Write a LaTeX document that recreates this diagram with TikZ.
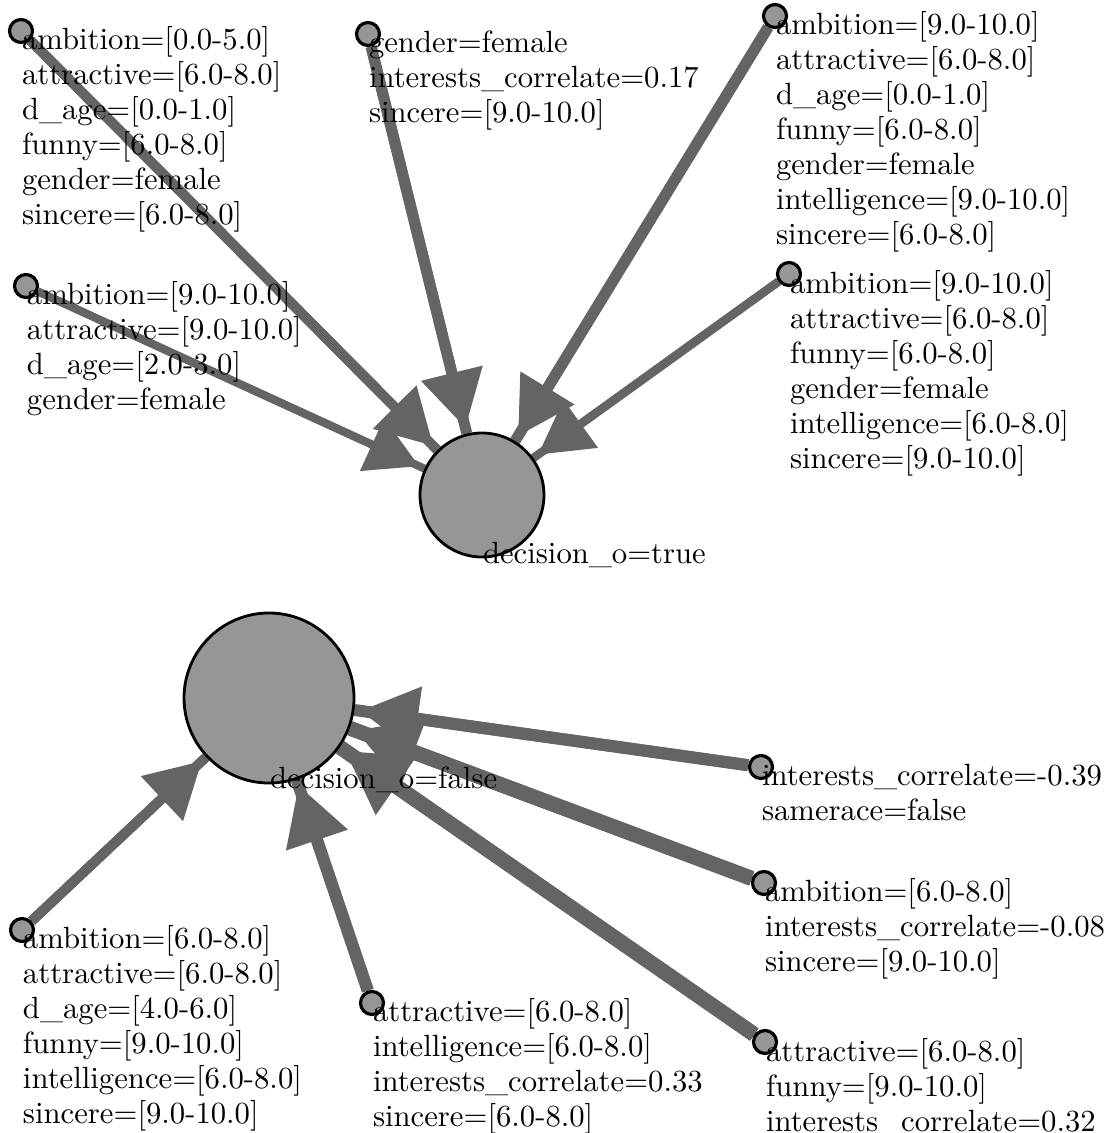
\documentclass[tikz,border=0pt]{standalone}
\usetikzlibrary{arrows.meta,calc,backgrounds}
\definecolor{nodefill}{RGB}{150,150,150}
\definecolor{edgecol}{RGB}{100,100,100}
\font\lblfont="[lmroman10-regular.otf]" at 30.7pt
% multi-line label whose base is the baseline of its first line; rows 35pt apart
\newcommand\lbl[1]{\lblfont\setbox\strutbox\hbox{\vrule height 24.5pt depth 10.5pt width 0pt}%
  \begin{tabular}[t]{@{}l@{}}#1\end{tabular}}
% connector: full-width line into the target, plus a head whose tip stops at distance #3 from the target centre
\newcommand\edgeto[4]{%
  \draw[edgeline, line width=#4] (#1) -- (#2);
  \draw[edgeline, line width=#4, -{Triangle[length=40pt 1.5, width=44pt 1.5]}]
    (#1) -- ($(#2.center)!#3!(#1.center)$);
}
\tikzset{
  small/.style={circle, draw=black, fill=nodefill, line width=3.2pt, minimum size=23pt, inner sep=0pt},
  bigtrue/.style={circle, draw=black, fill=nodefill, line width=2.8pt, minimum size=124pt, inner sep=0pt},
  bigfalse/.style={circle, draw=black, fill=nodefill, line width=2.8pt, minimum size=170pt, inner sep=0pt},
  label text/.style={anchor=base west, inner sep=0pt, outer sep=0pt},
  edgeline/.style={draw=edgecol},
}
\begin{document}
\begin{tikzpicture}[x=1pt, y=-1pt]
\useasboundingbox (0,0) rectangle (1113,1133);

% outcome nodes
\node[bigtrue]  (T) at (482,495) {};
\node[bigfalse] (F) at (269,698) {};

% rule nodes
\node[small] (a1) at (21,31) {};
\node[small] (a2) at (368,34) {};
\node[small] (a3) at (775,16) {};
\node[small] (a4) at (26,286) {};
\node[small] (a5) at (789,274) {};
\node[small] (b1) at (761,767) {};
\node[small] (b2) at (764,883) {};
\node[small] (b3) at (765,1042) {};
\node[small] (b4) at (22,930) {};
\node[small] (b5) at (372,1003) {};

% connectors, kept underneath nodes and text
\begin{scope}[on background layer]
  \edgeto{a1}{T}{69pt}{10pt}
  \edgeto{a2}{T}{69pt}{11pt}
  \edgeto{a3}{T}{69pt}{11pt}
  \edgeto{a4}{T}{69pt}{8pt}
  \edgeto{a5}{T}{69pt}{8.5pt}
  \edgeto{b1}{F}{92pt}{12pt}
  \edgeto{b2}{F}{92pt}{15pt}
  \edgeto{b3}{F}{92pt}{15pt}
  \edgeto{b4}{F}{92pt}{10pt}
  \edgeto{b5}{F}{92pt}{12pt}
\end{scope}

% labels
\node[label text] (tT) at (483,563) {\lbl{decision\_o=true}};
\node[label text] (tF) at (270,788) {\lbl{decision\_o=false}};

\node[label text] (t1) at (22,49) {\lbl{ambition=[0.0-5.0]\\attractive=[6.0-8.0]\\d\_age=[0.0-1.0]\\funny=[6.0-8.0]\\gender=female\\sincere=[6.0-8.0]}};
\node[label text] (t2) at (369,52) {\lbl{gender=female\\interests\_correlate=0.17\\sincere=[9.0-10.0]}};
\node[label text] (t3) at (776,34) {\lbl{ambition=[9.0-10.0]\\attractive=[6.0-8.0]\\d\_age=[0.0-1.0]\\funny=[6.0-8.0]\\gender=female\\intelligence=[9.0-10.0]\\sincere=[6.0-8.0]}};
\node[label text] (t4) at (27,304) {\lbl{ambition=[9.0-10.0]\\attractive=[9.0-10.0]\\d\_age=[2.0-3.0]\\gender=female}};
\node[label text] (t5) at (790,293) {\lbl{ambition=[9.0-10.0]\\attractive=[6.0-8.0]\\funny=[6.0-8.0]\\gender=female\\intelligence=[6.0-8.0]\\sincere=[9.0-10.0]}};

\node[label text] (u1) at (762,785) {\lbl{interests\_correlate=-0.39\\samerace=false}};
\node[label text] (u2) at (765,901) {\lbl{ambition=[6.0-8.0]\\interests\_correlate=-0.08\\sincere=[9.0-10.0]}};
\node[label text] (u3) at (766,1061) {\lbl{attractive=[6.0-8.0]\\funny=[9.0-10.0]\\interests\_correlate=0.32}};
\node[label text] (u4) at (23,948) {\lbl{ambition=[6.0-8.0]\\attractive=[6.0-8.0]\\d\_age=[4.0-6.0]\\funny=[9.0-10.0]\\intelligence=[6.0-8.0]\\sincere=[9.0-10.0]}};
\node[label text] (u5) at (373,1021) {\lbl{attractive=[6.0-8.0]\\intelligence=[6.0-8.0]\\interests\_correlate=0.33\\sincere=[6.0-8.0]}};
\end{tikzpicture}
\end{document}
